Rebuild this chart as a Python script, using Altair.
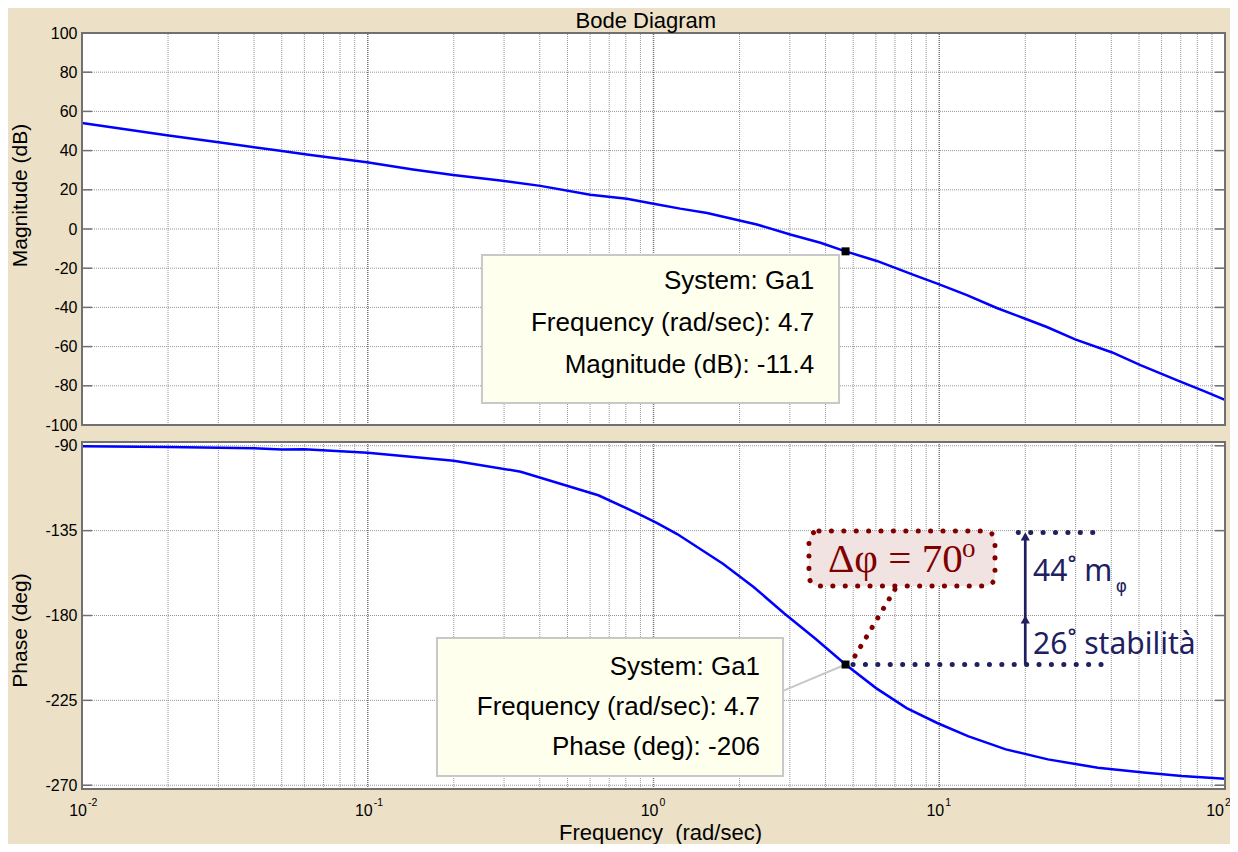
import altair as alt
import pandas as pd

BG = "#ECE1C6"
FONT = "Liberation Sans"
RED = "#800000"
NAVY = "#202060"
GRID = "#959595"
FRAME = "#707070"

# ---------------- data ----------------
MAG_FREQ = [0.01, 0.0198, 0.0305, 0.0494, 0.0612, 0.0993, 0.144, 0.199, 0.291, 0.402,
            0.601, 0.807, 1.0, 1.24, 1.54, 2.30, 3.01, 3.84, 4.7, 6.05, 8.13, 9.95,
            12.5, 15.9, 20.0, 23.8, 29.9, 40.3, 50.6, 69.8, 84.1, 100]
MAG_DB = [54.1, 47.8, 44.1, 39.9, 38.0, 34.0, 30.4, 27.6, 24.8, 22.0,
          17.5, 15.4, 12.9, 10.4, 8.2, 2.3, -2.8, -7.0, -11.4, -16.3, -23.4, -28.1,
          -33.7, -40.3, -45.8, -50.0, -56.3, -63.0, -69.5, -77.9, -82.6, -87.2]

PH_FREQ = [0.01, 0.02, 0.04, 0.05, 0.06, 0.1, 0.2, 0.343, 0.641, 0.89, 1.03, 1.21,
           1.75, 2.24, 2.87, 3.67, 4.7, 6.01, 7.69, 9.84, 12.6, 17.1, 24.0, 35.9,
           51.9, 70.6, 100]
PH_DEG = [-90.2, -90.7, -91.25, -92.0, -91.8, -93.75, -97.9, -103.75, -116.25, -126.2,
          -131.0, -136.8, -152.6, -164.9, -178.9, -192.1, -206.0, -218.5, -229.1, -237.0,
          -244.0, -251.0, -256.3, -260.7, -263.3, -265.1, -266.5]

MAG_TICKS = [100, 80, 60, 40, 20, 0, -20, -40, -60, -80, -100]
PH_TICKS = [-90, -135, -180, -225, -270]
DECADES = [0.01, 0.1, 1, 10, 100]
DEC_BASE = ["10", "10", "10", "10", "10"]
DEC_EXP = ["-2", "-1", "0", "1", "2"]

F_LIM = [0.01, 100]
MAG_LIM = [-100, 100]
PH_LIM = [-272, -88]

TITLE = "Bode Diagram"
TITLE_F = 0.94

TIP_F = 4.7
TIP_MAG = -11.4
TIP_PH = -206.0
TIP_MAG_LINES = ["System: Ga1", "Frequency (rad/sec): 4.7", "Magnitude (dB): -11.4"]
TIP_PH_LINES = ["System: Ga1", "Frequency (rad/sec): 4.7", "Phase (deg): -206"]

# annotation anchors (data units)
TIPBOX_MAG = dict(x1=0.251, x2=4.46, y1=-13.3, y2=-88.8)
TIPTXT_MAG = dict(f=3.65, v=[-30.6, -51.9, -73.5])
TIPBOX_PH = dict(x1=0.1747, x2=2.84, y1=-191.9, y2=-265.1)
TIPTXT_PH = dict(f=2.36, v=[-211.5, -233.0, -254.0])
CONNECT_PH = dict(f=[2.84, TIP_F], v=[-220.0, TIP_PH])

DPHI_BOX = dict(x1=3.50, x2=15.67, y1=-135.2, y2=-164.4)
DPHI_TEXT = "Δφ = 70"
DPHI_SUP = "o"
DPHI_LEADER = dict(f=[7.11, 5.07], v=[-164.4, -201.5])
MARGIN_TOP = -136.0
MARGIN_FREQ = 20.0
NAVY_LINES = dict(f=[18.9, 38.0, 4.99, 40.2], v=[-136.0, -136.0, -206.0, -206.0], g=["a", "a", "b", "b"])
LBL_44 = "44˚ m"
LBL_PHI = "φ"
LBL_26 = "26˚ stabilità"

W, H = 1143, 756
MAG_BOTTOM_PX, PH_TOP_PX = 392, 409

# ---------------- scales / axes ----------------
XS = alt.Scale(type="log", domain=F_LIM, nice=False)
XA = alt.Axis(labels=False, ticks=False, domain=False, grid=False,
              title="Frequency\u00a0 (rad/sec)", titleFont=FONT, titleFontSize=22,
              titleFontWeight="normal", titleColor="black", titleY=50, titleX=578,
              titleBaseline="alphabetic")
YMS = alt.Scale(domain=MAG_LIM, range=[MAG_BOTTOM_PX, 0], nice=False, zero=False)
YPS = alt.Scale(domain=PH_LIM, range=[H, PH_TOP_PX], nice=False, zero=False)


def yaxis(values, title, ty):
    return alt.Axis(orient="left", values=values, grid=False, ticks=False, tickSize=0,
                    domain=False, labelFont=FONT, labelFontSize=16, labelColor="black",
                    labelPadding=5, labelOverlap=False, labelFlush=False,
                    labelExpr="'' + datum.value",
                    title=title, titleFont=FONT, titleFontSize=21, titleFontWeight="normal",
                    titleColor="black", titleX=-62, titleY=ty, titleBaseline="middle",
                    titleAngle=270, titleAlign="center")


YMA = yaxis(MAG_TICKS, "Magnitude (dB)", 162)
YPA = yaxis(PH_TICKS, "Phase (deg)", 597)


def X(field):
    return alt.X(field, type="quantitative", scale=XS, axis=XA)


def YM(field):
    return alt.Y(field, type="quantitative", scale=YMS, axis=YMA)


def YP(field):
    return alt.Y(field, type="quantitative", scale=YPS, axis=YPA)


VGRID = [k * d for d in DECADES[:-1] for k in range(1, 10)][1:]
VGRID_MINOR = [v for i, v in enumerate(VGRID) if (i + 1) % 9 != 0]
VGRID_MAJOR = [0.1, 1, 10]


def panel_layers(Y, lim, ticks):
    lo, hi = lim
    rect = pd.DataFrame({"x1": [F_LIM[0]], "x2": [F_LIM[1]], "y1": [lo], "y2": [hi]})
    minor = pd.DataFrame({"f": VGRID_MINOR, "y1": lo, "y2": hi})
    major = pd.DataFrame({"f": VGRID_MAJOR, "y1": lo, "y2": hi})
    inner = [t for t in ticks if lo < t < hi]
    hg = pd.DataFrame({"v": inner, "x1": F_LIM[0], "x2": F_LIM[1]})
    tk = pd.DataFrame({"v": inner})
    bg = alt.Chart(rect).mark_rect(fill="white").encode(x=X("x1"), x2="x2", y=Y("y1"), y2="y2")
    g1 = alt.Chart(minor).mark_rule(color=GRID, strokeWidth=1, strokeDash=[1, 1]).encode(
        x=X("f"), y=Y("y1"), y2="y2")
    g2 = alt.Chart(major).mark_rule(color="#707070", strokeWidth=1.5, strokeDash=[1, 1]).encode(
        x=X("f"), y=Y("y1"), y2="y2")
    g3 = alt.Chart(hg).mark_rule(color=GRID, strokeWidth=1, strokeDash=[1, 1]).encode(
        x=X("x1"), x2="x2", y=Y("v"))
    t1 = alt.Chart(tk).mark_rule(color=FRAME, strokeWidth=1.5).encode(
        x=alt.value(0), x2=alt.value(10), y=Y("v"))
    t2 = alt.Chart(tk).mark_rule(color=FRAME, strokeWidth=1.5).encode(
        x=alt.value(W - 10), x2=alt.value(W), y=Y("v"))
    frame = alt.Chart(rect).mark_rect(fillOpacity=0, stroke=FRAME, strokeWidth=2).encode(
        x=X("x1"), x2="x2", y=Y("y1"), y2="y2")
    return [bg, g1, g2, g3, t1, t2], frame


def tip_layers(Y, box, txt, lines, val):
    bdf = pd.DataFrame({k: [v] for k, v in box.items()})
    b = alt.Chart(bdf).mark_rect(fill="#FFFFEE", stroke="#C8C8C8", strokeWidth=2).encode(
        x=X("x1"), x2="x2", y=Y("y1"), y2="y2")
    tdf = pd.DataFrame({"t": lines, "f": [txt["f"]] * 3, "v": txt["v"]})
    t = alt.Chart(tdf).mark_text(align="right", baseline="alphabetic", font=FONT,
                                 fontSize=26, color="black").encode(
        x=X("f"), y=Y("v"), text="t:N")
    mdf = pd.DataFrame({"f": [TIP_F], "v": [val]})
    m = alt.Chart(mdf).mark_square(size=64, color="black", opacity=1, filled=True).encode(
        x=X("f"), y=Y("v"))
    return b, t, m


# ---------------- magnitude panel ----------------
mag_df = pd.DataFrame({"f": MAG_FREQ, "db": MAG_DB})
mbase, mframe = panel_layers(YM, MAG_LIM, MAG_TICKS)
mcurve = alt.Chart(mag_df).mark_line(color="#0000FF", strokeWidth=2.5).encode(
    x=X("f"), y=YM("db"))
mb, mt, mm = tip_layers(YM, TIPBOX_MAG, TIPTXT_MAG, TIP_MAG_LINES, TIP_MAG)
title = alt.Chart(pd.DataFrame({"t": [TITLE], "f": [TITLE_F]})).mark_text(
    align="center", baseline="alphabetic", font=FONT, fontSize=22, color="black").encode(
    x=X("f"), y=alt.value(-5), text="t:N")
mag = alt.layer(*mbase, mcurve, mb, mt, mm, mframe, title)

# ---------------- phase panel ----------------
ph_df = pd.DataFrame({"f": PH_FREQ, "deg": PH_DEG})
pbase, pframe = panel_layers(YP, PH_LIM, PH_TICKS)
pcurve = alt.Chart(ph_df).mark_line(color="#0000FF", strokeWidth=2.5).encode(
    x=X("f"), y=YP("deg"))
pb, pt, pm = tip_layers(YP, TIPBOX_PH, TIPTXT_PH, TIP_PH_LINES, TIP_PH)
conn = alt.Chart(pd.DataFrame(CONNECT_PH)).mark_line(color="#C8C8C8", strokeWidth=2).encode(
    x=X("f"), y=YP("v"))

dbox = alt.Chart(pd.DataFrame({k: [v] for k, v in DPHI_BOX.items()})).mark_rect(
    cornerRadius=10, fill="#F2E3E3", stroke=RED, strokeWidth=5,
    strokeDash=[0.1, 12.3], strokeCap="round").encode(
    x=X("x1"), x2="x2", y=YP("y1"), y2="y2")
dlead = alt.Chart(pd.DataFrame(DPHI_LEADER)).mark_line(
    color=RED, strokeWidth=5, strokeDash=[0.1, 11], strokeCap="round").encode(
    x=X("f"), y=YP("v"))
dtext = alt.Chart(pd.DataFrame({"t": [DPHI_TEXT], "f": [4.08], "v": [-156.8]})).mark_text(
    align="left", baseline="alphabetic", font="Liberation Serif", fontSize=41, color=RED).encode(
    x=X("f"), y=YP("v"), text="t:N")
dsup = alt.Chart(pd.DataFrame({"t": [DPHI_SUP], "f": [12.0], "v": [-149.0]})).mark_text(
    align="left", baseline="alphabetic", font="Liberation Serif", fontSize=27, color=RED).encode(
    x=X("f"), y=YP("v"), text="t:N")

nlines = alt.Chart(pd.DataFrame(NAVY_LINES)).mark_line(
    color=NAVY, strokeWidth=5, strokeDash=[0.1, 12.3], strokeCap="round").encode(
    x=X("f"), y=YP("v"), detail="g:N")
arrow = alt.Chart(pd.DataFrame({"f": [MARGIN_FREQ], "y1": [TIP_PH], "y2": [MARGIN_TOP - 1]})).mark_rule(
    color=NAVY, strokeWidth=2.7).encode(x=X("f"), y=YP("y1"), y2="y2")
heads = alt.Chart(pd.DataFrame({"f": [MARGIN_FREQ, MARGIN_FREQ], "v": [MARGIN_TOP, -180.0]})).mark_point(
    shape="triangle-up", filled=True, size=85, color=NAVY, opacity=1, yOffset=4).encode(
    x=X("f"), y=YP("v"))
ntext = alt.Chart(pd.DataFrame({"t": [LBL_44, LBL_26], "f": [21.3, 21.3], "v": [-161.5, -200.4]})).mark_text(
    align="left", baseline="alphabetic", font="Noto Sans", fontSize=30, color=NAVY).encode(
    x=X("f"), y=YP("v"), text="t:N")
nsub = alt.Chart(pd.DataFrame({"t": [LBL_PHI], "f": [41.5], "v": [-167.5]})).mark_text(
    align="left", baseline="alphabetic", font="DejaVu Sans", fontSize=17, color=NAVY).encode(
    x=X("f"), y=YP("v"), text="t:N")

dec_df = pd.DataFrame({"f": DECADES, "b": DEC_BASE, "e": DEC_EXP})
dec_main = dec_df.iloc[:-1]
dec_last = dec_df.iloc[-1:]
xlab = alt.Chart(dec_main).mark_text(align="right", baseline="alphabetic", font=FONT,
                                     fontSize=16, color="black", dx=5).encode(
    x=X("f"), y=alt.value(783), text="b:N")
xexp = alt.Chart(dec_main).mark_text(align="left", baseline="alphabetic", font=FONT,
                                     fontSize=10.5, color="black", dx=6).encode(
    x=X("f"), y=alt.value(773), text="e:N")
xlab2 = alt.Chart(dec_last).mark_text(align="right", baseline="alphabetic", font=FONT,
                                      fontSize=16, color="black", dx=-1).encode(
    x=X("f"), y=alt.value(783), text="b:N")
xexp2 = alt.Chart(dec_last).mark_text(align="left", baseline="alphabetic", font=FONT,
                                      fontSize=10.5, color="black", dx=0).encode(
    x=X("f"), y=alt.value(773), text="e:N")

phase = alt.layer(*pbase, pcurve, pb, pt, conn, dbox, dlead, dtext, dsup,
                  nlines, arrow, heads, ntext, nsub, pm, pframe, xlab, xexp, xlab2, xexp2)

chart = alt.layer(mag, phase).resolve_scale(y="independent").properties(
    width=W, height=H,
    padding={"left": 74, "top": 25, "right": 5, "bottom": 55},
    autosize=alt.AutoSizeParams(type="none"),
    background=BG,
).configure_view(strokeWidth=0)

chart.save("out.html", embed_options={"renderer": "svg", "actions": False})
